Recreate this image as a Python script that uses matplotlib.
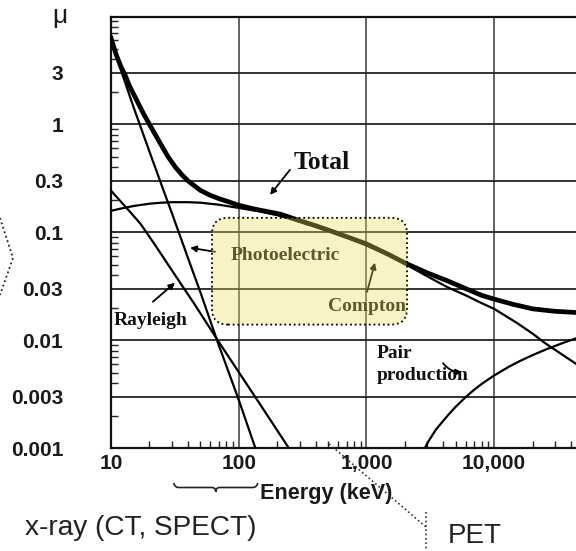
import matplotlib
matplotlib.use("Agg")
import matplotlib.pyplot as plt
from matplotlib.patches import FancyBboxPatch, PathPatch
from matplotlib.path import Path
from matplotlib.lines import Line2D
from matplotlib.transforms import IdentityTransform
from matplotlib.ticker import LogLocator, NullFormatter, FixedLocator
from matplotlib.font_manager import FontProperties

# ---------------- data ----------------
total_E = [10, 11, 12, 13, 14, 16, 18, 20, 22, 25, 28, 32, 36, 40, 50, 60, 70, 85, 100,
           130, 170, 213, 300, 400, 500, 700, 1000, 1500, 2000, 3000, 4300, 6000, 8000,
           10000, 14000, 20000, 30000, 45000]
total_mu = [6.3, 4.4, 3.4, 2.8, 2.25, 1.65, 1.25, 1.0, 0.82, 0.63, 0.5, 0.40, 0.34, 0.30,
            0.245, 0.22, 0.205, 0.19, 0.178, 0.165, 0.155, 0.147, 0.128, 0.115, 0.105,
            0.091, 0.078, 0.062, 0.052, 0.042, 0.0355, 0.030, 0.026, 0.024, 0.0215,
            0.0195, 0.0185, 0.018]

photo_E = [10, 15, 20, 25, 30, 40, 50, 68, 100, 135, 142]
photo_mu = [5.9, 1.45, 0.56, 0.27, 0.15, 0.058, 0.028, 0.0098, 0.0028, 0.001, 0.00085]

compton_E = [10, 12, 15, 20, 25, 30, 40, 50, 70, 100, 150, 200, 300, 500, 700, 1000,
             1500, 2000, 3000, 4300, 6000, 8000, 10000, 15000, 20000, 25000, 35000, 45000]
compton_mu = [0.158, 0.166, 0.175, 0.184, 0.188, 0.19, 0.19, 0.188, 0.18, 0.168, 0.155,
              0.144, 0.126, 0.103, 0.090, 0.0755, 0.061, 0.051, 0.039, 0.031, 0.026,
              0.022, 0.0195, 0.0145, 0.0115, 0.0094, 0.0072, 0.0059]

rayleigh_E = [10, 12, 14, 17, 22, 32, 45, 68, 100, 150, 200, 240, 260]
rayleigh_mu = [0.243, 0.191, 0.156, 0.12, 0.077, 0.0395, 0.0216, 0.0101, 0.00506,
               0.00245, 0.00146, 0.00105, 0.0009]

pair_E = [2800, 2880, 3000, 3500, 4300, 5000, 6000, 7000, 8000, 10000, 13000, 16000,
          20000, 26000, 35000, 45000]
pair_mu = [0.00093, 0.001, 0.00111, 0.00148, 0.00198, 0.00241, 0.00297, 0.00348, 0.00393,
           0.0047, 0.00565, 0.00642, 0.00726, 0.00828, 0.00946, 0.0105]

x_ticks = [10, 100, 1000, 10000]
x_ticklabels = ["10", "100", "1,000", "10,000"]
y_ticks = [0.001, 0.003, 0.01, 0.03, 0.1, 0.3, 1, 3]
y_ticklabels = ["0.001", "0.003", "0.01", "0.03", "0.1", "0.3", "1", "3"]

# ---------------- figure ----------------
W, H = 576, 551
fig = plt.figure(figsize=(W / 100, H / 100), dpi=100)
ax_l, ax_r, ax_t, ax_b = 111, 580, 16.5, 448
ax = fig.add_axes([ax_l / W, 1 - ax_b / H, (ax_r - ax_l) / W, (ax_b - ax_t) / H])
ax.set_xscale("log")
ax.set_yscale("log")
ax.set_xlim(10, 10 ** (1 + (ax_r - ax_l) / 127.7))
ax.set_ylim(1e-3, 10)

ax.xaxis.set_major_locator(FixedLocator(x_ticks))
ax.set_xticklabels(x_ticklabels)
ax.yaxis.set_major_locator(FixedLocator(y_ticks))
ax.set_yticklabels(y_ticklabels)
ax.xaxis.set_minor_locator(LogLocator(base=10, subs=range(2, 10), numticks=20))
ax.yaxis.set_minor_locator(LogLocator(base=10, subs=range(2, 10), numticks=20))
ax.xaxis.set_minor_formatter(NullFormatter())
ax.yaxis.set_minor_formatter(NullFormatter())

tick_fp = FontProperties(family="Liberation Sans", weight="bold", size=15)
for lab in ax.get_xticklabels() + ax.get_yticklabels():
    lab.set_fontproperties(tick_fp)
    lab.set_color("#1a1a1a")

ax.tick_params(axis="y", which="major", length=0, pad=34.5)
ax.tick_params(axis="x", which="major", length=0, pad=4.5)
ax.tick_params(which="minor", direction="in", length=5, width=1.0, color="#222")

ax.yaxis.grid(True, which="major", color="#222222", lw=1.3)
ax.xaxis.grid(True, which="major", color="#3a3a3a", lw=1.1)
ax.set_axisbelow(True)

for s in ["left", "bottom", "top"]:
    ax.spines[s].set_linewidth(1.6)
    ax.spines[s].set_color("#111")
ax.spines["right"].set_visible(False)

# curves
ax.plot(photo_E, photo_mu, color="black", lw=1.6, zorder=3)
ax.plot(rayleigh_E, rayleigh_mu, color="black", lw=1.6, zorder=3)
ax.plot(compton_E, compton_mu, color="black", lw=1.6, zorder=3)
ax.plot(pair_E, pair_mu, color="black", lw=1.6, zorder=3)
ax.plot(total_E, total_mu, color="black", lw=3.4, zorder=4, solid_joinstyle="round")

# scanned-figure labels
serif = dict(family="Liberation Serif", weight="bold", color="#111")
ax.text(449, 0.44, "Total", ha="center", va="center", fontsize=18.5, **serif, zorder=6)
ax.text(231, 0.0606, "Photoelectric", ha="center", va="center", fontsize=14, **serif, zorder=6)
ax.text(1012, 0.0204, "Compton", ha="center", va="center", fontsize=14, **serif, zorder=6)
ax.text(10.4, 0.0152, "Rayleigh", ha="left", va="center", fontsize=14, **serif, zorder=6)
ax.text(1211, 0.0075, "Pair", ha="left", va="center", fontsize=14, **serif, zorder=6)
ax.text(1211, 0.0047, "production", ha="left", va="center", fontsize=14, **serif, zorder=6)

arrow = dict(arrowstyle="-|>", lw=1.3, color="black", mutation_scale=9, shrinkA=0, shrinkB=0)
ax.annotate("", xy=(176, 0.222), xytext=(252, 0.379), arrowprops=arrow, zorder=6)
ax.annotate("", xy=(41.6, 0.0718), xytext=(65.2, 0.0659), arrowprops=arrow, zorder=6)
ax.annotate("", xy=(31.7, 0.034), xytext=(21.3, 0.0227), arrowprops=arrow, zorder=6)
ax.annotate("", xy=(1167, 0.0523), xytext=(1012, 0.0281), arrowprops=arrow, zorder=6)
ax.annotate("", xy=(5610, 0.00506), xytext=(3981, 0.00612),
            arrowprops=dict(arrow, connectionstyle="arc3,rad=0.25"), zorder=6)

# yellow highlight box (semi-transparent overlay)
p0 = ax.transData.transform((61.8, 0.01393))
p1 = ax.transData.transform((2080, 0.136))
box = FancyBboxPatch((p0[0], p0[1]), p1[0] - p0[0], p1[1] - p0[1],
                     boxstyle="round,pad=0,rounding_size=16",
                     transform=IdentityTransform(),
                     facecolor=(0.93, 0.86, 0.35, 0.35), edgecolor="black",
                     linestyle=(0, (1, 1.6)), lw=1.3, zorder=7, clip_on=False)
ax.add_artist(box)

# axis label
ax.text(0.4585, (ax_b - 493) / (ax_b - ax_t), "Energy (keV)", transform=ax.transAxes,
        ha="center", va="center", fontsize=15.6, family="Liberation Sans", weight="bold",
        color="#1a1a1a")

# mu symbol
fig.text(60 / W, 1 - 16 / H, "μ", ha="center", va="center", fontsize=19,
         family="Liberation Sans", color="#1a1a1a")

# dotted chevron at the left edge
fig.add_artist(Line2D([0, 13, 0], [H - 218, H - 258, H - 295], transform=IdentityTransform(),
                      color="#222", lw=1.3, linestyle=(0, (1, 1.6))))

# brace under x-ray range
xl = ax.transData.transform((31, 1e-3))[0]
xr = ax.transData.transform((141, 1e-3))[0]
xm = (xl + xr) / 2
yb = H - 487.5
verts = [(xl, H - 483), (xl + 1, yb), (xl + 5, yb),
         (xm - 4, yb), (xm, yb), (xm, H - 492),
         (xm, yb), (xm + 4, yb),
         (xr - 5, yb), (xr - 1, yb), (xr, H - 483)]
codes = [Path.MOVETO, Path.CURVE3, Path.CURVE3,
         Path.LINETO, Path.CURVE3, Path.CURVE3,
         Path.CURVE3, Path.CURVE3,
         Path.LINETO, Path.CURVE3, Path.CURVE3]
fig.add_artist(PathPatch(Path(verts, codes), transform=IdentityTransform(),
                         fill=False, lw=1.2, edgecolor="#222"))

# PET dotted guide from 511 keV
x511 = ax.transData.transform((511, 1e-3))
fig.add_artist(Line2D([x511[0], 426], [x511[1] + 4, H - 527], transform=IdentityTransform(),
                      color="#333", lw=1.2, linestyle=(0, (1, 1.6))))
fig.add_artist(Line2D([426, 426], [H - 512, 0], transform=IdentityTransform(),
                      color="#333", lw=1.2, linestyle=(0, (1, 1.6))))

fig.text(25 / W, 1 - 528 / H, "x-ray (CT, SPECT)", ha="left", va="center", fontsize=20.2,
         family="Liberation Sans", color="#222")
fig.text(448 / W, 1 - 536 / H, "PET", ha="left", va="center", fontsize=20,
         family="Liberation Sans", color="#222")

fig.savefig("out.png", dpi=100)
